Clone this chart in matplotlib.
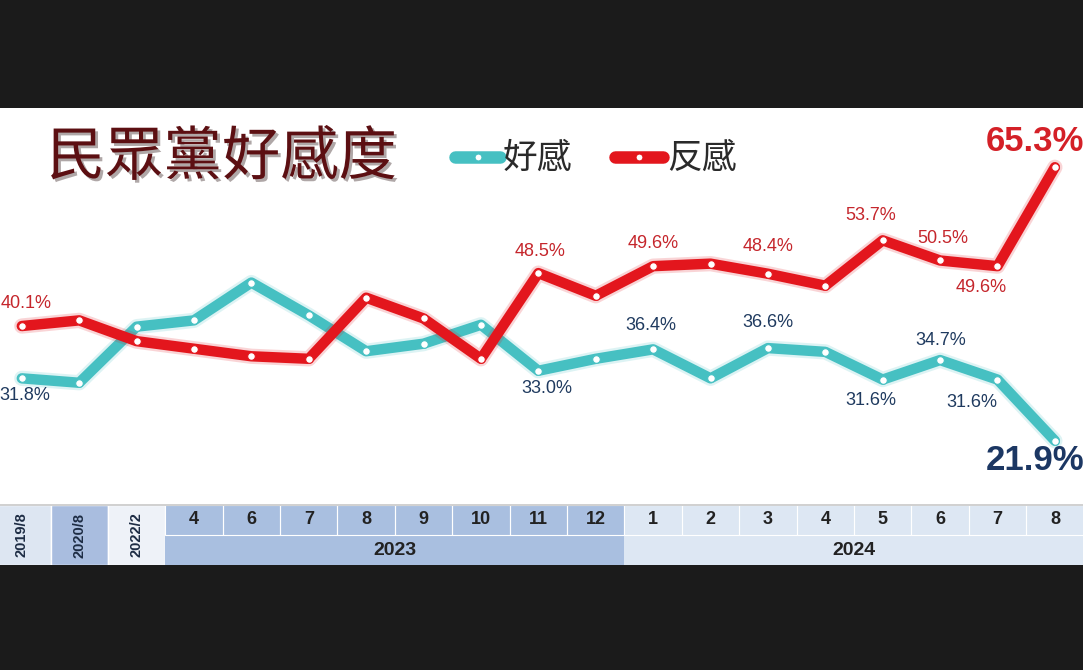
import matplotlib
matplotlib.use("Agg")
import matplotlib.pyplot as plt
import matplotlib.patheffects as pe
from matplotlib.patches import Rectangle
from matplotlib.lines import Line2D

# 資料：民眾黨好感度
periods = ["2019/8", "2020/8", "2022/2", "4", "6", "7", "8", "9", "10", "11", "12",
           "1", "2", "3", "4", "5", "6", "7", "8"]
favorable = [31.8, 31.1, 40.0, 41.0, 47.0, 41.8, 36.1, 37.3, 40.3, 33.0, 34.9,
             36.4, 31.8, 36.6, 36.0, 31.6, 34.7, 31.6, 21.9]
unfavorable = [40.1, 41.0, 37.7, 36.5, 35.3, 34.9, 44.6, 41.3, 34.9, 48.5, 44.9,
               49.6, 50.0, 48.4, 46.5, 53.7, 50.5, 49.6, 65.3]
years = ["2023", "2024"]
year_span = [(3, 10), (11, 18)]
fav_labeled = [0, 9, 11, 13, 15, 16, 17, 18]
unfav_labeled = [0, 9, 11, 13, 15, 16, 17, 18]

CYAN, RED = "#46c0c2", "#e3161d"
NAVY, DRED = "#1f3a5f", "#c5262c"
BG = "#1b1b1b"
W, H = 1083, 670

fig = plt.figure(figsize=(W / 100, H / 100), dpi=100, facecolor=BG)


def fx(px):
    return px / W


def fy(py):
    return 1 - py / H


# panneau blanc
fig.patches.append(Rectangle((0, fy(565)), 1, fy(108) - fy(565), transform=fig.transFigure,
                             fc="white", ec="none", zorder=-1))

# zone graphique
ax = fig.add_axes([0, fy(505), 1, fy(108) - fy(505)])
ax.set_xlim(-0.38, 18.49)
ax.set_ylim(11.7, 74.7)
ax.axis("off")

x = list(range(len(periods)))
for vals, col, z in [(favorable, CYAN, 3), (unfavorable, RED, 4)]:
    ax.plot(x, vals, color=col, lw=7.5, solid_joinstyle="round", solid_capstyle="round",
            zorder=z,
            path_effects=[pe.Stroke(linewidth=11, foreground=col, alpha=0.18), pe.Normal()])
    ax.plot(x, vals, ls="none", marker="o", ms=5.5, mfc="white", mec=col, mew=0.8,
            zorder=z + 0.5)

# étiquettes (décalage en pixels)
lab_kw = dict(textcoords="offset pixels", ha="center", va="center",
              family="Liberation Sans", fontsize=13, zorder=6)
unfav_off = {0: (4, 23), 9: (2, 22), 11: (0, 23), 13: (0, 27), 15: (-12, 25),
             16: (3, 22), 17: (-16, -21)}
fav_off = {0: (3, -17), 9: (9, -18), 11: (-2, 24), 13: (0, 26), 15: (-12, -21),
           16: (1, 20), 17: (-26, -23)}
for i in unfav_labeled:
    if i == 18:
        ax.annotate(f"{unfavorable[i]:.1f}%", (i, unfavorable[i]), xytext=(-20, 26),
                    **{**lab_kw, "fontsize": 25}, color="#d42027", fontweight="bold",
                    annotation_clip=False)
    else:
        ax.annotate(f"{unfavorable[i]:.1f}%", (i, unfavorable[i]), xytext=unfav_off[i],
                    **lab_kw, color=DRED)
for i in fav_labeled:
    if i == 18:
        ax.annotate(f"{favorable[i]:.1f}%", (i, favorable[i]), xytext=(-20, -20),
                    **{**lab_kw, "fontsize": 25}, color="#1c3763", fontweight="bold",
                    annotation_clip=False)
    else:
        ax.annotate(f"{favorable[i]:.1f}%", (i, favorable[i]), xytext=fav_off[i],
                    **lab_kw, color=NAVY)

# tableau des périodes
tx = fig.add_axes([0, fy(565), 1, fy(505) - fy(565)])
tx.set_xlim(ax.get_xlim())
tx.set_ylim(0, 2)
tx.axis("off")
BLUE, LIGHT = "#a9bfe0", "#dde7f3"
first_cols = ["#dde6f2", "#a9bddf", "#eef2f8"]
for i, c in enumerate(first_cols):
    tx.add_patch(Rectangle((i - 0.5, 0), 1, 2, fc=c, ec="white", lw=1))
    tx.text(i, 1, periods[i], rotation=90, ha="center", va="center", fontsize=10.5,
            fontweight="bold", color="#1d2c44", family=["Liberation Sans Narrow", "Liberation Sans"])
for (a, b), yr, c in zip(year_span, years, [BLUE, LIGHT]):
    tx.add_patch(Rectangle((a - 0.5, 0), b - a + 1, 2, fc=c, ec="none"))
    for i in range(a, b + 1):
        tx.add_patch(Rectangle((i - 0.5, 1.0), 1, 1.0, fc="none", ec="white", lw=0.8))
        tx.text(i, 1.5, periods[i], ha="center", va="center", fontsize=13,
                fontweight="bold", color="#222222", family="Liberation Sans")
    tx.text((a + b) / 2, 0.48, yr, ha="center", va="center",
            fontsize=14, fontweight="bold", color="#222222", family="Liberation Sans")
tx.plot([-0.5, 18.5], [2, 2], color="#c8c8c8", lw=1.2, clip_on=False)

# titre et légende
fig.text(fx(222), fy(158), "民眾黨好感度", ha="center", va="center", fontsize=42,
         fontweight="medium", color="#5c0f12", family=["Noto Sans CJK TC", "DejaVu Sans"],
         path_effects=[pe.SimplePatchShadow(offset=(2, -2), alpha=0.35), pe.Normal()])
for x0, x1, col, txt, tx0 in [(455, 500, CYAN, "好感", 503), (615, 663, RED, "反感", 667)]:
    fig.add_artist(Line2D([fx(x0), fx(x1)], [fy(157), fy(157)], color=col, lw=9,
                          solid_capstyle="round"))
    fig.add_artist(Line2D([fx((x0 + x1) / 2)], [fy(157)], marker="o", ms=5,
                          mfc="white", mec=col, mew=0.8))
    fig.text(fx(tx0), fy(158), txt, ha="left", va="center", fontsize=25,
             color="#2a2a2a", family=["Noto Sans CJK TC", "DejaVu Sans"])

fig.savefig("out.png", dpi=100, facecolor=BG)
